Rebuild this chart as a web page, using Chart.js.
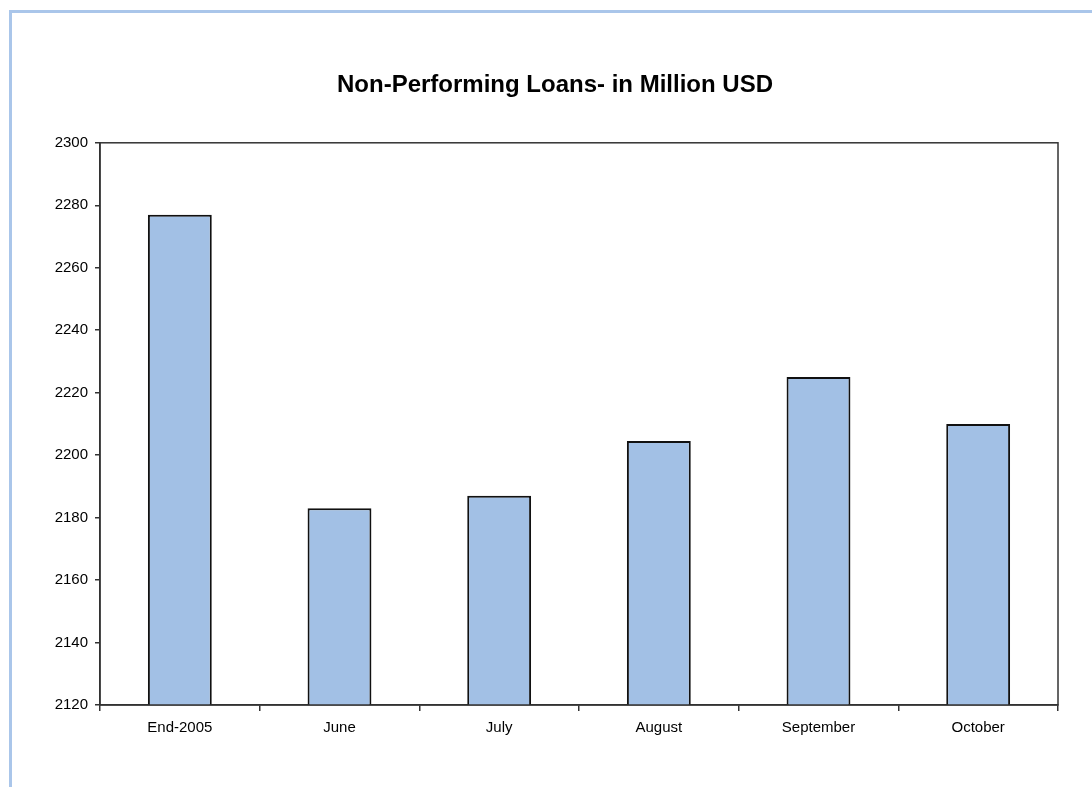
<!DOCTYPE html>
<html>
<head>
<meta charset="utf-8">
<script src="https://cdn.jsdelivr.net/npm/chart.js@4"></script>
<style>
    html, body { margin: 0; padding: 0; background: #fff; overflow: hidden; }
    .frame {
        position: absolute; left: 9px; top: 10px; width: 1200px; height: 900px;
        border-left: 3px solid #aac6ea; border-top: 3px solid #aac6ea;
    }
    #loansChart { position: absolute; left: 0; top: 0; }
</style>
</head>
<body>
<div class="frame"></div>
<canvas id="loansChart" width="1092" height="787"></canvas>
<script>
const periods = ['End-2005', 'June', 'July', 'August', 'September', 'October'];
const npl = [2277, 2183, 2187, 2204.5, 2225, 2210];
const yMin = 2120;
const yMax = 2300;
const yStep = 20;

const FONT = 'Liberation Sans, Arial, Helvetica, sans-serif';

// outline round the plot area
const plotBorder = {
    id: 'plotBorder',
    afterDraw(chart) {
        const { ctx, chartArea: a } = chart;
        ctx.save();
        ctx.strokeStyle = '#333';
        ctx.lineWidth = 1.5;
        ctx.strokeRect(a.left, a.top, a.right - a.left, a.bottom - a.top);
        ctx.restore();
    }
};

document.addEventListener('DOMContentLoaded', function() {
    const ctx = document.getElementById('loansChart').getContext('2d');
    new Chart(ctx, {
        type: 'bar',
        data: {
            labels: periods,
            datasets: [{
                data: npl,
                backgroundColor: '#a2c0e5',
                borderColor: '#111',
                borderWidth: 2,
                categoryPercentage: 1,
                barPercentage: 0.4
            }]
        },
        options: {
            responsive: false,
            animation: false,
            layout: { padding: { top: 0, right: 34, left: 52, bottom: 0 } },
            plugins: {
                legend: { display: false },
                tooltip: { enabled: false },
                title: {
                    display: true,
                    text: 'Non-Performing Loans- in Million USD',
                    color: '#000',
                    font: { family: FONT, size: 24, weight: 'bold' },
                    padding: { top: 71, bottom: 43 }
                }
            },
            scales: {
                x: {
                    afterFit(scale) { scale.height = 82; },
                    grid: {
                        offset: true,
                        drawOnChartArea: false,
                        color: '#333',
                        lineWidth: 1.5,
                        tickLength: 6
                    },
                    border: { color: '#333', width: 1.5 },
                    ticks: {
                        color: '#000',
                        padding: 8,
                        font: { family: FONT, size: 15 }
                    }
                },
                y: {
                    min: yMin,
                    max: yMax,
                    afterFit(scale) { scale.width = 48; },
                    grid: {
                        drawOnChartArea: false,
                        color: '#333',
                        lineWidth: 1.5,
                        tickLength: 5
                    },
                    border: { color: '#333', width: 1.5 },
                    ticks: {
                        stepSize: yStep,
                        color: '#000',
                        padding: 7,
                        font: { family: FONT, size: 15 },
                        callback: v => String(v)
                    }
                }
            }
        },
        plugins: [plotBorder]
    });
});
</script>
</body>
</html>
